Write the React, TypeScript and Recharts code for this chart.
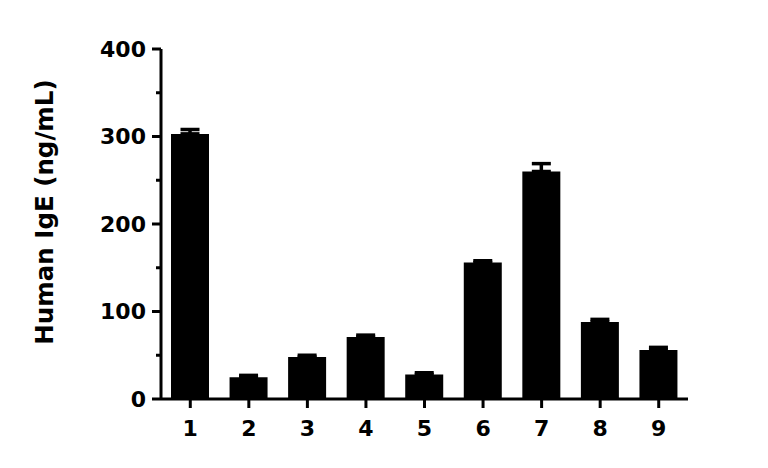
import { BarChart, Bar, XAxis, YAxis, ErrorBar } from "recharts";

// Sample number on the x axis, mean IgE and its (upper) error.
const samples = ["1", "2", "3", "4", "5", "6", "7", "8", "9"];
const igeMean = [303, 25, 48, 71, 28, 156, 260, 88, 56];
const igeErr = [5, 2, 2, 2, 2, 2, 9, 3, 3];
const yTicks = [0, 50, 100, 150, 200, 250, 300, 350, 400];

const FONT = "'DejaVu Sans', sans-serif";
const Y_TICK_SIZE = 9;
const Y_TICK_MARGIN = 6;

const data = samples.map((s, i) => ({
  sample: s,
  value: igeMean[i],
  err: [0, igeErr[i]],
}));

// Major ticks every 100 get a label, the ones in between are short and bare.
function YTick(props: any) {
  const { x, y, payload } = props;
  const major = payload.value % 100 === 0;
  const axisX = x + Y_TICK_SIZE + Y_TICK_MARGIN;
  const len = major ? Y_TICK_SIZE : 5;
  return (
    <g>
      <line x1={axisX - len} y1={y} x2={axisX} y2={y} stroke="#000" strokeWidth={3} />
      {major && (
        <text
          x={x}
          y={y}
          dy="0.355em"
          textAnchor="end"
          fill="#000"
          fontSize={22}
          fontWeight="bold"
          fontFamily={FONT}
        >
          {payload.value}
        </text>
      )}
    </g>
  );
}

function YLabel(props: any) {
  const vb = props.viewBox;
  const cx = vb.x + 53;
  const cy = vb.y + vb.height / 2 - 12;
  return (
    <text
      transform={`translate(${cx}, ${cy}) rotate(-90)`}
      textAnchor="middle"
      fill="#000"
      fontSize={24.5}
      fontWeight="bold"
      fontFamily={FONT}
    >
      Human IgE (ng/mL)
    </text>
  );
}

export default function App() {
  return (
    <div style={{ position: "absolute", left: 0, top: 0, background: "#fff" }}>
      <BarChart
        width={768}
        height={468}
        data={data}
        margin={{ top: 49, right: 80, bottom: 0, left: 0 }}
      >
        <XAxis
          dataKey="sample"
          height={69}
          axisLine={{ stroke: "#000", strokeWidth: 3 }}
          tickLine={{ stroke: "#000", strokeWidth: 3 }}
          tickSize={9}
          tickMargin={12}
          interval={0}
          tick={{ fill: "#000", fontSize: 22, fontWeight: "bold", fontFamily: FONT }}
        />
        <YAxis
          width={161}
          domain={[0, 400]}
          ticks={yTicks}
          interval={0}
          axisLine={{ stroke: "#000", strokeWidth: 3 }}
          tickLine={false}
          tickSize={Y_TICK_SIZE}
          tickMargin={Y_TICK_MARGIN}
          tick={<YTick />}
          label={<YLabel />}
        />
        <Bar dataKey="value" fill="#000" barSize={38} isAnimationActive={false}>
          <ErrorBar
            dataKey="err"
            direction="y"
            width={9.5}
            stroke="#000"
            strokeWidth={3.5}
            isAnimationActive={false}
          />
        </Bar>
      </BarChart>
    </div>
  );
}
